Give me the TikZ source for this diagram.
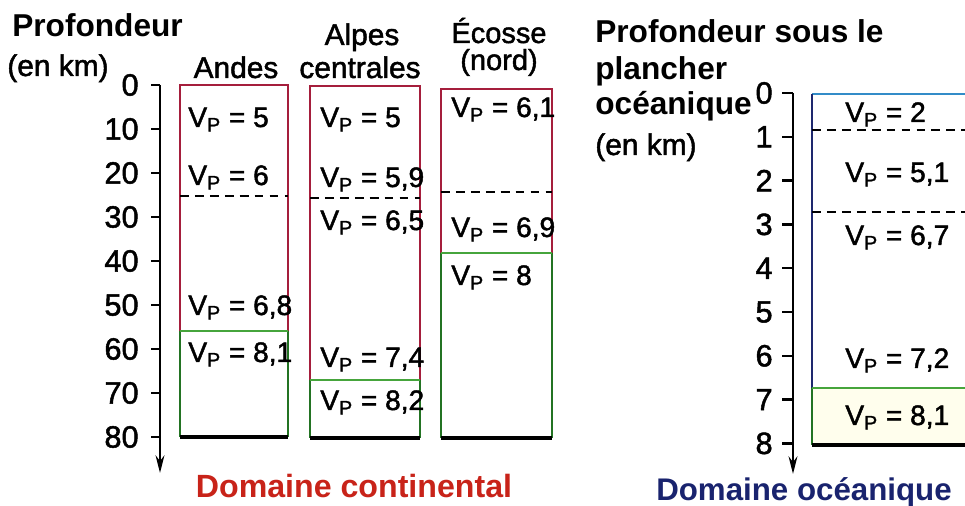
\documentclass[tikz,border=0pt]{standalone}
\usepackage{fontspec}
\setmainfont{Liberation Sans}
\newfontfamily\medfont{Liberation Sans}[FakeBold=1.6]
\usepackage{tikz}
\usetikzlibrary{arrows.meta}

\definecolor{crust}{RGB}{165,30,60}
\definecolor{mantle}{RGB}{35,115,35}
\definecolor{moho}{RGB}{70,165,60}
\definecolor{seatop}{RGB}{50,140,200}
\definecolor{seaside}{RGB}{30,40,110}
\definecolor{contred}{RGB}{200,35,25}
\definecolor{oceanblue}{RGB}{25,35,110}

\begin{document}
\begin{tikzpicture}[x=0.02cm,y=-0.02cm,
	txt/.style={inner sep=0,font=\fontsize{17}{19}\medfont},
	head/.style={inner sep=0,anchor=base west,font=\fontsize{18}{20}\selectfont\bfseries},
	num/.style={inner sep=0,anchor=east,font=\fontsize{17.5}{19}\medfont},
	vp/.style={inner sep=0,anchor=base west,font=\fontsize{16}{18}\medfont},
	axis/.style={line width=1.4pt,black},
	limit/.style={line width=1.3pt,black,dash pattern=on 5pt off 3.5pt},
	bottom/.style={line width=1.9pt,black}]
	\useasboundingbox (0,0) rectangle (965,506);
	
	% continental domain
	\node[head] (prof) at (12,37) {Profondeur};
	\node[txt,anchor=base west] (enkm) at (7,76) {(en km)};
	\coordinate (atop) at (160,85);
	\coordinate (abot) at (160,473);
	\foreach \d in {0,10,...,80} {
		\node[num] (c\d) at (139,{85+4.4*\d}) {\d};
		\draw[axis] (151,{85+4.4*\d}) -- (160,{85+4.4*\d});
	}
	\draw[axis,-{Stealth[length=10pt,width=5pt]}] (atop) -- (abot);
	
	\node[txt,anchor=base] (andes) at (236,78) {Andes};
	\node[txt,anchor=base] (alpes) at (362,45) {Alpes};
	\node[txt,anchor=base] (centrales) at (360,78) {centrales};
	\node[txt,anchor=base,font=\fontsize{16.5}{18}\medfont] (ecosse) at (499,43) {Écosse};
	\node[txt,anchor=base,font=\fontsize{16.5}{18}\medfont] (nord) at (499,70) {(nord)};
	
	% Andes
	\draw[crust,line width=1.5pt] (180,331) -- (180,85) -- (288,85) -- (288,331);
	\draw[mantle,line width=1.5pt] (180,331) -- (180,437) (288,331) -- (288,437);
	\draw[limit] (180,196) -- (288,196);
	\draw[moho,line width=1.5pt] (180,331) -- (288,331);
	\draw[bottom] (180,437) -- (288,437);
	\node[vp] (an1) at (188,127) {V\textsubscript{P} = 5};
	\node[vp] (an2) at (188,185) {V\textsubscript{P} = 6};
	\node[vp] (an3) at (188,315) {V\textsubscript{P} = 6,8};
	\node[vp] (an4) at (188,362) {V\textsubscript{P} = 8,1};
	
	% Alpes centrales
	\draw[crust,line width=1.5pt] (310,380) -- (310,86) -- (420,86) -- (420,380);
	\draw[mantle,line width=1.5pt] (310,380) -- (310,438) (420,380) -- (420,438);
	\draw[limit] (310,198) -- (420,198);
	\draw[moho,line width=1.5pt] (310,380) -- (420,380);
	\draw[bottom] (310,438) -- (420,438);
	\node[vp] (al1) at (320,127) {V\textsubscript{P} = 5};
	\node[vp] (al2) at (320,187) {V\textsubscript{P} = 5,9};
	\node[vp] (al3) at (320,230) {V\textsubscript{P} = 6,5};
	\node[vp] (al4) at (320,367) {V\textsubscript{P} = 7,4};
	\node[vp] (al5) at (320,410) {V\textsubscript{P} = 8,2};
	
	% Ecosse (nord)
	\draw[crust,line width=1.5pt] (441,253) -- (441,89) -- (552,89) -- (552,253);
	\draw[mantle,line width=1.5pt] (441,253) -- (441,438) (552,253) -- (552,438);
	\draw[limit] (441,192) -- (552,192);
	\draw[moho,line width=1.5pt] (441,253) -- (552,253);
	\draw[bottom] (441,438) -- (552,438);
	\node[vp] (ec1) at (451,117) {V\textsubscript{P} = 6,1};
	\node[vp] (ec2) at (451,237) {V\textsubscript{P} = 6,9};
	\node[vp] (ec3) at (451,285) {V\textsubscript{P} = 8};
	
	\node[txt,anchor=base,text=contred,font=\fontsize{18.3}{20}\selectfont\bfseries] (cont) at (354,498) {Domaine continental};
	
	% oceanic domain
	\node[head] (prof2) at (595,43) {Profondeur sous le};
	\node[head] (planch) at (595,80) {plancher};
	\node[head] (ocean) at (595,115) {océanique};
	\node[txt,anchor=base west] (enkm2) at (595,155) {(en km)};
	\coordinate (otop) at (793,93);
	\coordinate (obot) at (793,474);
	\foreach \d in {0,...,8} {
		\node[num] (o\d) at (773,{93+43.8*\d}) {\d};
		\draw[axis] (782,{93+43.8*\d}) -- (793,{93+43.8*\d});
	}
	\draw[axis,-{Stealth[length=10pt,width=5pt]}] (otop) -- (obot);
	
	\fill[yellow!7] (812,388) rectangle (965,445);
	\draw[seatop,line width=1.5pt] (812,94) -- (965,94);
	\draw[seaside,line width=1.5pt] (812,94) -- (812,388);
	\draw[mantle,line width=1.5pt] (812,388) -- (812,445);
	\draw[limit] (812,130) -- (965,130);
	\draw[limit] (812,212) -- (965,212);
	\draw[moho,line width=1.5pt] (812,388) -- (965,388);
	\draw[bottom] (812,445) -- (965,445);
	\node[vp] (oc1) at (845,122) {V\textsubscript{P} = 2};
	\node[vp] (oc2) at (845,182) {V\textsubscript{P} = 5,1};
	\node[vp] (oc3) at (845,245) {V\textsubscript{P} = 6,7};
	\node[vp] (oc4) at (845,368) {V\textsubscript{P} = 7,2};
	\node[vp] (oc5) at (845,425) {V\textsubscript{P} = 8,1};
	
	\node[txt,anchor=base,text=oceanblue,font=\fontsize{17.8}{20}\selectfont\bfseries] (ocdom) at (804,501) {Domaine océanique};
	
\end{tikzpicture}
\end{document}
